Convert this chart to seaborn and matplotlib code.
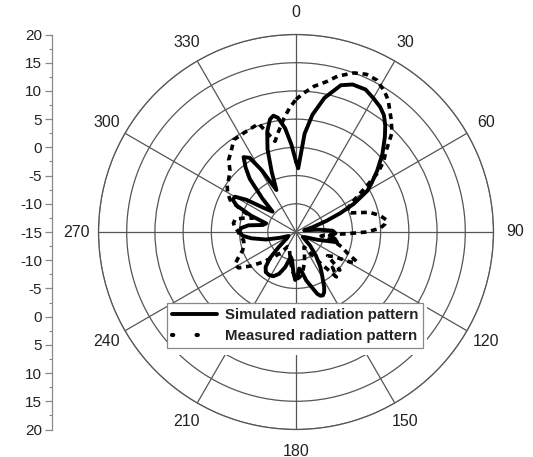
import numpy as np
import pandas as pd
import seaborn as sns
import matplotlib
matplotlib.use("Agg")
import matplotlib.pyplot as plt
from matplotlib.lines import Line2D
from matplotlib.patches import Rectangle

# ---------------- data (angle in degrees clockwise from north, gain in dB) -------------
sim_angle = [0, 2, 5, 8, 12, 17, 21, 26, 30, 34, 37, 40, 43, 48, 53, 57, 60, 64, 67, 70,
             74, 78, 84, 88, 92, 96, 100, 104, 110, 118, 126, 134, 140, 145, 149, 153, 155,
             157, 159, 161, 164, 168, 172, 175, 178, 181, 184, 188, 192, 197, 202, 207, 212,
             217, 221, 225, 229, 235, 242, 250, 256, 262, 266, 270, 274, 278, 282, 286, 290,
             294, 297, 300, 303, 307, 311, 315, 319, 322, 325, 328, 331, 335, 338, 341, 344,
             347, 349, 351, 354, 357, 360]
sim_db = [-2.5, -3.7, 2.5, 6.0, 9.3, 12.2, 13.0, 13.1, 12.4, 11.7, 10.9, 9.6, 8.1, 5.6, 3.0,
          1.0, -0.4, -3.6, -6.5, -9.3, -12.0, -13.5, -11.0, -8.5, -8.0, -9.0, -8.0, -7.5,
          -11.0, -13.0, -13.5, -11.5, -9.5, -7.5, -6.0, -4.0, -3.2, -2.8, -2.9, -3.4, -4.8,
          -6.2, -8.0, -8.5, -7.0, -6.5, -8.0, -10.0, -10.5, -8.5, -7.0, -6.2, -6.0, -6.1,
          -6.8, -8.5, -11.0, -13.0, -13.5, -12.0, -9.5, -7.0, -5.5, -5.0, -5.2, -6.5, -9.0,
          -9.5, -6.5, -3.5, -2.4, -2.5, -4.5, -8.0, -9.5, -6.5, -2.5, -0.5, 1.2, 0.5, -2.5,
          -6.8, -3.5, 0.5, 3.5, 5.5, 6.0, 5.5, 3.5, 0.5, -2.5]

meas_angle = [0, 3, 7, 11.5, 15, 20, 24, 28, 32, 35, 40, 44, 48, 51, 54, 57, 60, 64, 68, 71,
              75, 79, 82.5, 85, 87.5, 90, 92, 95, 99, 104, 108, 112, 116, 119, 123, 127, 131,
              134, 138, 142, 146, 152, 158, 164, 170, 175, 180, 185, 190, 196, 203, 210, 216,
              222, 228, 233, 238, 242, 246, 251, 256, 261, 266, 270, 274, 278, 282, 285, 288,
              292, 296, 300, 304, 309, 313, 317, 321, 326, 331, 336, 341, 344, 347, 350, 354,
              357, 360]
meas_db = [8.5, 9.6, 11.0, 12.2, 13.6, 15.0, 15.6, 15.5, 14.5, 13.5, 11.2, 9.5, 6.5, 5.0, 3.0,
           -0.1, -2.5, -4.5, -5.2, -4.6, -1.5, 0.2, 1.2, 0.8, -0.1, -2.5, -6.0, -9.5, -10.5,
           -8.0, -6.5, -5.3, -3.0, -4.0, -7.0, -8.0, -4.7, -6.0, -4.3, -8.0, -10.5, -12.0,
           -11.0, -9.5, -8.0, -7.0, -6.5, -8.0, -9.5, -11.0, -12.0, -12.0, -10.5, -9.0, -7.0,
           -5.0, -3.0, -2.7, -3.8, -5.0, -5.5, -5.6, -5.0, -4.8, -4.2, -3.8, -4.0, -5.5, -7.0,
           -4.5, -2.0, -1.0, -0.3, 0.3, 1.0, 2.5, 3.3, 4.7, 4.8, 5.0, 5.3, 3.2, 1.5, 3.0, 5.3,
           7.0, 8.5]

theta_ticks = [0, 30, 60, 90, 120, 150, 180, 210, 240, 270, 300, 330]
theta_labels = ["0", "30", "60", "90", "120", "150", "180", "210", "240", "270", "300", "330"]
ring_values = [-10, -5, 0, 5, 10, 15, 20]
scale_labels = ["20", "15", "10", "5", "0", "-5", "-10", "-15",
                "-10", "-5", "0", "5", "10", "15", "20"]
series_names = ["Simulated radiation pattern", "Measured radiation pattern"]

# ---------------- style ----------------
sns.set_style("white")
plt.rcParams["font.family"] = ["Liberation Sans", "DejaVu Sans"]
TXT = "#222222"
GRID = "#555555"

W, H = 533, 457
fig = plt.figure(figsize=(W / 100, H / 100), dpi=100)

cx, cy, R = 296.0, 232.0, 197.5
ax = fig.add_axes([(cx - R) / W, (H - cy - R) / H, 2 * R / W, 2 * R / H], projection="polar")
ax.set_theta_zero_location("N")
ax.set_theta_direction(-1)
ax.set_ylim(-15, 20)
ax.set_rticks(ring_values)
ax.set_yticklabels([])
ax.set_thetagrids(theta_ticks, labels=theta_labels)
ax.tick_params(axis="x", pad=5, labelsize=11.5, colors=TXT)
ax.grid(True, color=GRID, linewidth=0.9)
ax.spines["polar"].set_color(GRID)
ax.spines["polar"].set_linewidth(0.9)
ax.set_facecolor("white")

sim_df = pd.DataFrame({"theta": np.deg2rad(sim_angle), "r": sim_db})
meas_df = pd.DataFrame({"theta": np.deg2rad(meas_angle), "r": meas_db})

sns.lineplot(data=sim_df, x="theta", y="r", ax=ax, sort=False, estimator=None,
             color="black", linewidth=2.8, zorder=3)
sns.lineplot(data=meas_df, x="theta", y="r", ax=ax, sort=False, estimator=None,
             color="black", linewidth=2.6, zorder=3, linestyle=(0, (1.6, 1.3)))
ax.set_xlabel("")
ax.set_ylabel("")

# ---------------- left scale ----------------
ax2 = fig.add_axes([51.7 / W, (H - cy - R) / H, 0.0001, 2 * R / H])
ax2.set_ylim(-7, 7)
ax2.set_yticks(np.arange(-7, 8))
ax2.set_yticklabels(scale_labels[::-1])
ax2.set_yticks(np.arange(-6.5, 7, 1), minor=True)
ax2.set_xticks([])
for s in ["top", "right", "bottom"]:
    ax2.spines[s].set_visible(False)
ax2.spines["left"].set_visible(True)
ax2.spines["left"].set_color("#888888")
ax2.spines["left"].set_linewidth(0.9)
ax2.tick_params(axis="y", which="major", left=True, direction="out", length=5, width=0.9,
                color="#888888", labelsize=11, labelcolor=TXT, pad=2)
ax2.tick_params(axis="y", which="minor", left=True, direction="out", length=2.5, width=0.8,
                color="#888888")
ax2.patch.set_alpha(0)

# ---------------- legend + white mask ----------------
mask = Rectangle((167 / W, 1 - 355 / H), (427 - 167) / W, (355 - 303) / H,
                 transform=fig.transFigure, facecolor="white", edgecolor="none", zorder=4)
fig.add_artist(mask)

handles = [Line2D([], [], color="black", linewidth=2.8),
           Line2D([], [], color="black", linewidth=3.0, linestyle=(0, (0.3, 5.6)),
                  dash_capstyle="round")]
leg = fig.legend(handles, series_names, loc="upper left",
                 bbox_to_anchor=(167 / W, 1 - 303 / H), bbox_transform=fig.transFigure,
                 frameon=True, fancybox=False, framealpha=1, edgecolor="#888888",
                 prop={"weight": "bold", "size": 10.8}, handlelength=3.0,
                 handletextpad=0.5, borderaxespad=0, borderpad=0.35, labelspacing=0.45)
leg.get_frame().set_linewidth(0.9)
for t in leg.get_texts():
    t.set_color(TXT)
leg.set_zorder(5)

fig.savefig("out.png", dpi=100, facecolor="white")
